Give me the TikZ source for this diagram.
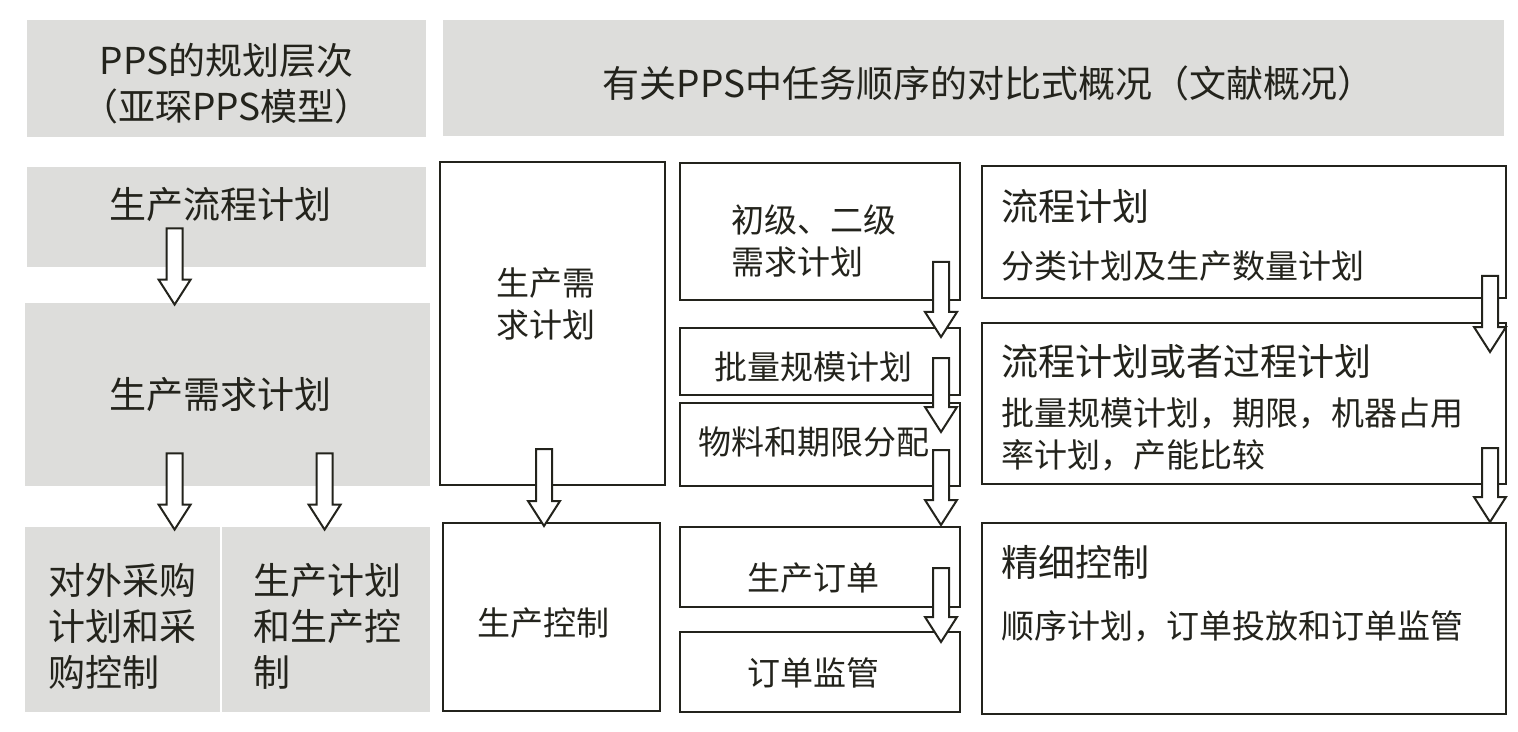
\documentclass[tikz,border=0pt]{standalone}
\usepackage{fontspec}
\setmainfont{Noto Sans CJK SC}
\usetikzlibrary{calc,fit}
\definecolor{boxgray}{RGB}{221,221,219}
\definecolor{ink}{RGB}{35,35,28}
% hollow block arrow, from shaft top #1 down to tip #2
\newcommand{\fatarrow}[2]{%
  \draw[ink,line width=1pt,fill=white,line join=miter] let \p1=(#1), \p2=(#2) in
    (\x1-4pt,\y1) -- (\x1-4pt,\y2+12.5pt) -- (\x1-8pt,\y2+12.5pt) -- (\x1,\y2)
    -- (\x1+8pt,\y2+12.5pt) -- (\x1+4pt,\y2+12.5pt) -- (\x1+4pt,\y1) -- cycle;}

\begin{document}
\begin{tikzpicture}[x=0.5pt,y=-0.5pt,
    graybox/.style={fill=boxgray,draw=none,inner sep=0pt},
    wbox/.style={draw=ink,line width=1pt,fill=white,inner sep=0pt},
    big/.style={font=\fontsize{18.5}{23}\selectfont,text=ink,inner sep=0pt},
    mid/.style={font=\fontsize{16.5}{21}\selectfont,text=ink,inner sep=0pt}]
    \useasboundingbox (0,0) rectangle (1518,732);
    % --- headers
    \node[graybox,fit={(27,20) (426,137)}] (hL) {};
    \node[big,align=center] (hLt) at ($(hL.center)+(0,5)$) {PPS的规划层次\\（亚琛PPS模型）};
    \node[graybox,fit={(443,20) (1504,136)}] (hR) {};
    \node[big] (hRt) at ($(hR.center)+(15,5)$) {有关PPS中任务顺序的对比式概况（文献概况）};
    % --- left: planning levels
    \node[graybox,fit={(27,167) (426,267)}] (L1) {};
    \node[big] (L1t) at ($(L1.north)+(-6,38)$) {生产流程计划};
    \node[graybox,fit={(25,303) (430,486)}] (L2) {};
    \node[big] (L2t) at ($(L2.center)+(-7,0)$) {生产需求计划};
    \node[graybox,fit={(25,527) (220,712)}] (L3) {};
    \node[big,align=left,anchor=west] (L3t) at ($(L3.west)+(23,7)$) {对外采购\\计划和采\\购控制};
    \node[graybox,fit={(222,527) (430,712)}] (L4) {};
    \node[big,align=left,anchor=west] (L4t) at ($(L4.west)+(31,7)$) {生产计划\\和生产控\\制};
    % --- column 1
    \node[wbox,fit={(440,162) (665,485)}] (need) {};
    \node[mid,align=left,anchor=west] (needt) at ($(need.north west)+(57,143)$) {生产需\\求计划};
    \node[wbox,fit={(443,523) (660,711)}] (ctrl) {};
    \node[mid] (ctrlt) at ($(ctrl.center)+(-8,6)$) {生产控制};
    % --- column 2
    \node[wbox,fit={(680,163) (960,300)}] (prim) {};
    \node[mid,align=left,anchor=west] (primt) at ($(prim.north west)+(52,79)$) {初级、二级\\需求计划};
    \node[wbox,fit={(680,328) (960,395)}] (lot) {};
    \node[mid] (lott) at ($(lot.center)+(-7,5)$) {批量规模计划};
    \node[wbox,fit={(680,403) (960,486)}] (mat) {};
    \node[mid] (matt) at ($(mat.center)+(-6,-2)$) {物料和期限分配};
    \node[wbox,fit={(680,527) (960,607)}] (ord) {};
    \node[mid] (ordt) at ($(ord.center)+(-7,11)$) {生产订单};
    \node[wbox,fit={(680,632) (960,712)}] (mon) {};
    \node[mid] (mont) at ($(mon.center)+(-7,1)$) {订单监管};
    % --- column 3
    \node[wbox,fit={(982,166) (1506,298)}] (flow) {};
    \node[big,anchor=west] (flowt) at ($(flow.north west)+(20,41)$) {流程计划};
    \node[mid,anchor=west] (flows) at ($(flow.north west)+(20,101)$) {分类计划及生产数量计划};
    \node[wbox,fit={(982,323) (1506,484)}] (proc) {};
    \node[big,anchor=west] (proct) at ($(proc.north west)+(20,39)$) {流程计划或者过程计划};
    \node[mid,align=left,anchor=west] (procs) at ($(proc.north west)+(20,112)$) {批量规模计划，期限，机器占用\\率计划，产能比较};
    \node[wbox,fit={(982,523) (1506,714)}] (fine) {};
    \node[big,anchor=west] (finet) at ($(fine.north west)+(20,40)$) {精细控制};
    \node[mid,anchor=west] (fines) at ($(fine.north west)+(20,104)$) {顺序计划，订单投放和订单监管};
    % --- arrows
    \coordinate (a1) at ($(L1.south west)+(148,-39)$);
    \coordinate (b1) at ($(L2.north west)+(150,2)$);
    \coordinate (a2) at ($(L2.south west)+(150,-33)$);
    \coordinate (b2) at ($(L3.north west)+(150,3)$);
    \coordinate (a3) at ($(L2.south west)+(300,-33)$);
    \coordinate (b3) at ($(L4.north west)+(103,3)$);
    \coordinate (a4) at ($(need.south west)+(105,-37)$);
    \coordinate (b4) at ($(ctrl.north west)+(102,4)$);
    \coordinate (a5) at ($(prim.south east)+(-20,-39)$);
    \coordinate (b5) at ($(lot.north east)+(-20,10)$);
    \coordinate (a6) at ($(lot.south east)+(-20,-38)$);
    \coordinate (b6) at ($(mat.north east)+(-20,30)$);
    \coordinate (a7) at ($(mat.south east)+(-20,-37)$);
    \coordinate (b7) at ($(ord.north east)+(-20,-1)$);
    \coordinate (a8) at ($(ord.south east)+(-20,-40)$);
    \coordinate (b8) at ($(mon.north east)+(-20,11)$);
    \coordinate (a9) at ($(flow.south east)+(-17,-23)$);
    \coordinate (b9) at ($(proc.north east)+(-17,30)$);
    \coordinate (a10) at ($(proc.south east)+(-17,-37)$);
    \coordinate (b10) at ($(fine.north east)+(-17,0)$);
    \foreach \i in {1,...,10}
      {\fatarrow{a\i}{b\i}}
\end{tikzpicture}
\end{document}
